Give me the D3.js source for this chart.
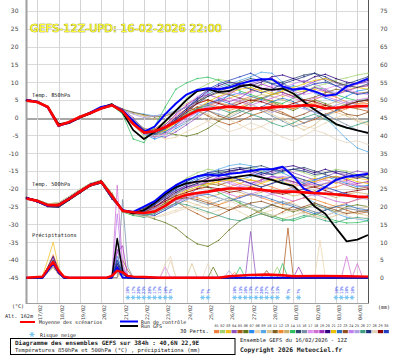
<!DOCTYPE html>
<html><head><meta charset="utf-8">
<script src="https://cdn.jsdelivr.net/npm/d3@7"></script>
<style>body{margin:0;background:#fff}svg{display:block}</style>
</head><body><svg id="c" width="395" height="355"></svg>
<script>
const hours = [0,12,24,36,48,60,72,84,96,108,120,132,144,156,168,180,192,204,216,228,240,252,264,276,288,300,312,324,336,348,360,372,384];
const dayHours = [12,36,60,84,108,132,156,180,204,228,252,276,300,324,348,372];
const dayLabels = ["17/02","18/02","19/02","20/02","21/02","22/02","23/02","24/02","25/02","26/02","27/02","28/02","01/03","02/03","03/03","04/03"];
const leftTicks = [-45,-40,-35,-30,-25,-20,-15,-10,-5,0,5,10,15,20,25,30];
const rightTicks = [0,5,10,15,20,25,30,35,40,45,50,55,60,65,70,75];
const memberColors = ["#f08040","#a0d070","#f0c020","#9050c0","#b05818","#607818","#2888f0","#ecd4ac","#58a8e8","#dcc490",
"#806020","#f08830","#c8b070","#30c060","#304870","#7890a8","#e090f0","#d070d0","#a030c0","#300080",
"#e8c000","#3070c0","#905020","#c080f0","#b0a0e0","#40a080","#203080","#e4d4bc","#900000","#2040c0"];

const meanT850 = [4.8,4.4,3.0,-2.2,-1.2,0.2,1.3,2.6,3.5, 1.8,-1.8,-4.2,-3.8,-2.7,-1.2,0.5,2.0, 2.4,2.8,3.1,2.9,2.6,2.7,2.9,3.1, 3.2,3.5,3.4,2.6,2.8,3.0,3.2,3.3];
const ctrlT850 = [5.0,4.5,2.8,-2.3,-1.4,0.1,1.5,3.0,3.6, 2.0,-1.0,-4.0,-2.5,1.0,4.0,6.5,7.8, 8.3,8.0,8.5,9.5,10.3,10.8,10.8,8.8, 7.9,8.2,7.4,6.2,6.5,8.8,9.8,11.0];
const gfsT850 = [5.0,4.5,3.0,-1.8,-1.5,0.0,1.2,2.8,3.8, 1.5,-3.5,-6.0,-4.0,-1.0,2.0,5.0,7.5, 8.0,7.2,7.5,8.8,9.3,8.2,7.8,8.2, 6.8,4.5,2.2,0.3,-1.8,-2.8,-3.6,-4.3];

const meanT500 = [-22.7,-23.4,-24.6,-24.6,-22.8,-20.8,-18.9,-18.0,-22.0, -26.2,-26.6,-26.8,-26.4,-24.8,-22.7,-21.7,-21.2, -20.8,-20.3,-19.9,-19.9,-20.0,-20.3,-20.6,-20.8, -20.8,-21.0,-21.2,-21.4,-21.6,-21.9,-22.2,-22.3];
const ctrlT500 = [-22.6,-23.5,-24.8,-24.5,-22.7,-20.7,-18.8,-18.0,-22.2, -26.0,-26.5,-25.0,-23.5,-21.0,-19.0,-17.5,-16.5, -16.0,-16.3,-15.8,-15.5,-15.0,-14.5,-14.5,-13.8, -16.5,-20.0,-21.3,-19.5,-17.5,-16.6,-16.2,-15.8];
const gfsT500 = [-22.7,-23.3,-24.5,-24.7,-22.9,-20.9,-18.9,-17.9,-22.0, -26.0,-27.0,-26.0,-24.0,-21.5,-19.5,-18.5,-18.0, -17.8,-17.5,-17.0,-16.5,-16.1,-16.8,-17.5,-18.5, -19.2,-21.8,-25.0,-27.0,-31.0,-34.8,-34.3,-33.0];

const t850Members = [
[4.9,4.3,2.8,-2.0,-1.3,0.4,1.5,2.9,3.6, 2.2,-0.5,-3.0,-3.5,-2.0,0.5,2.5,4.0, 5.0,4.2,3.5,4.8,6.0,5.2,4.0,3.1, 2.5,3.8,5.0,6.5,5.8,4.4,3.9,4.6],
[4.7,4.5,3.1,-2.4,-1.0,0.1,1.2,2.4,3.3, 1.5,-1.8,-5.2,-4.0,-1.5,2.0,5.5,8.0, 9.5,10.8,10.2,9.0,8.5,9.2,10.5,9.8, 8.0,7.2,8.8,9.5,10.6,11.2,12.0,12.5],
[4.8,4.4,3.0,-2.1,-1.6,0.3,1.4,2.7,3.4, 2.0,-1.0,-3.8,-4.5,-3.0,-1.0,1.0,2.5, 3.5,4.5,5.5,6.5,7.5,8.2,7.0,6.0, 6.8,7.5,8.0,7.2,6.5,7.8,8.5,9.0],
[4.8,4.2,2.9,-2.5,-1.4,0.0,1.1,2.8,3.8, 2.5,0.0,-3.5,-5.0,-5.5,-4.0,-2.0,0.0, 2.0,4.0,6.5,8.5,9.5,10.5,11.0,9.5, 8.0,8.8,10.2,11.0,9.8,8.5,9.5,10.0],
[4.9,4.5,3.2,-1.8,-1.2,0.5,1.6,2.5,3.2, 1.8,-1.5,-4.0,-3.2,-1.0,1.5,3.0,2.0, 0.5,-1.0,-2.0,-1.0,0.5,1.5,2.5,1.5, 0.0,-1.5,-0.5,1.0,2.0,3.0,2.5,1.8],
[4.6,4.4,3.0,-2.0,-1.5,0.2,1.3,2.6,3.6, 2.1,-0.8,-4.4,-5.5,-4.2,-4.8,-5.2,-4.5, -3.0,-1.0,1.0,2.5,4.0,5.5,4.5,3.0, 2.0,3.5,5.0,4.0,2.8,3.8,4.5,5.0],
[4.8,4.4,3.0,-2.2,-1.2,0.2,1.3,2.6,3.5, 1.9,-1.2,-4.6,-6.0,-5.0,-3.0,-1.5,1.0, 3.5,5.0,6.2,7.0,6.0,5.0,6.5,8.0, 9.0,8.2,7.0,5.5,4.5,6.0,7.5,8.0],
[4.8,4.5,3.1,-2.0,-1.3,0.3,1.2,2.5,3.4, 2.0,-0.5,-3.5,-4.8,-6.0,-5.5,-4.0,-2.5, -1.0,0.5,-0.5,-2.0,-3.5,-2.5,-1.0,0.0, -1.0,-2.5,-3.0,-1.5,0.0,1.0,-0.5,-1.5],
[4.9,4.3,2.9,-2.3,-1.4,0.1,1.4,2.7,3.6, 2.3,1.5,1.0,0.5,1.0,2.0,3.0,5.0, 7.0,8.5,9.5,10.5,11.5,12.8,12.5,10.0, 7.5,5.0,2.5,0.0,-3.0,-6.0,-8.5,-9.6],
[4.7,4.4,3.0,-2.1,-1.2,0.3,1.2,2.5,3.4, 1.8,-1.0,-3.5,-4.2,-3.5,-1.5,0.5,2.0, 1.0,-0.5,0.5,2.0,3.5,2.5,1.0,-0.5, -2.0,-3.5,-2.0,0.5,1.5,0.5,-1.0,-2.0],
[4.8,4.5,3.1,-1.9,-1.5,0.2,1.5,2.8,3.7, 2.4,1.5,0.8,0.2,0.5,1.5,3.0,4.5, 6.0,7.0,6.5,5.5,4.8,5.5,6.5,7.2, 6.0,5.0,5.8,7.0,8.0,7.5,6.8,7.2],
[4.9,4.4,2.9,-2.2,-1.6,0.1,1.3,2.6,3.5, 2.0,-1.0,-4.0,-5.0,-3.5,-1.0,1.5,3.0, 4.0,3.0,2.0,3.0,4.5,5.5,4.8,3.5, 2.5,3.5,4.2,3.0,1.5,2.5,3.8,4.0],
[4.8,4.3,3.0,-2.0,-1.4,0.2,1.3,2.6,3.5, 2.1,1.2,0.5,-0.5,0.5,2.0,4.0,5.5, 5.0,4.0,3.5,4.5,5.5,6.5,6.0,5.0, 4.0,3.2,2.5,3.5,4.5,3.5,2.8,3.0],
[4.7,4.4,3.1,-2.4,-1.1,0.4,1.2,2.5,3.4, 1.0,-6.0,-7.0,-2.5,3.0,8.0,9.8,11.0, 11.4,10.5,9.0,7.5,6.5,5.5,4.5,4.0, 5.5,7.0,8.5,8.0,6.5,5.5,4.8,5.2],
[4.8,4.4,3.0,-2.0,-1.5,0.3,1.4,2.7,3.6, 2.2,-0.8,-4.0,-4.8,-3.0,-0.5,2.0,4.5, 6.5,8.0,9.0,10.0,11.0,10.5,9.5,10.0, 11.0,12.0,12.5,10.5,9.0,9.5,10.5,11.5],
[4.9,4.5,3.0,-2.1,-1.3,0.2,1.3,2.5,3.5, 2.0,-0.5,-3.0,-4.0,-3.8,-2.5,-1.0,0.5, 2.0,1.0,0.0,1.5,3.0,2.0,0.5,-1.0, -2.5,-1.5,0.0,1.0,-0.5,-2.0,-3.5,-4.5],
[4.8,4.4,2.9,-2.2,-1.3,0.2,1.3,2.6,3.5, 1.9,-1.1,-4.2,-4.5,-2.5,0.5,3.5,6.0, 7.5,8.5,7.5,6.5,7.0,8.0,9.0,8.5, 7.5,6.5,7.2,8.0,9.0,8.0,7.0,6.5],
[4.7,4.3,3.0,-2.0,-1.4,0.1,1.2,2.7,3.4, 2.0,-0.9,-3.6,-5.2,-4.5,-2.0,0.0,1.5, 3.0,4.5,5.5,4.5,3.5,4.5,5.5,6.5, 5.5,4.5,5.5,6.0,5.0,4.0,5.0,5.5],
[4.8,4.5,3.1,-2.1,-1.6,0.3,1.4,2.6,3.6, 2.1,-1.0,-3.9,-3.8,-2.0,1.0,3.5,5.5, 6.5,5.5,4.5,5.5,7.5,9.5,8.5,7.0, 6.0,7.0,8.5,7.5,6.5,7.5,8.5,9.0],
[4.9,4.4,3.0,-2.0,-1.3,0.2,1.3,2.5,3.5, 2.0,-0.8,-3.5,-4.0,-2.5,0.0,2.5,5.0, 7.5,9.0,10.0,9.5,9.0,10.0,11.5,12.0, 11.0,10.0,11.5,12.2,11.0,10.0,9.5,10.5],
[4.8,4.4,3.0,-2.2,-1.5,0.2,1.3,2.6,3.5, 2.0,-1.0,-4.0,-4.5,-3.5,-1.5,0.5,2.5, 4.5,6.0,7.0,8.0,8.5,7.5,6.5,7.5, 8.5,9.5,10.5,11.0,10.0,9.0,8.5,8.0],
[4.8,4.3,3.0,-2.0,-1.4,0.2,1.3,2.6,3.5, 2.0,-1.0,-4.2,-5.0,-4.0,-2.0,0.5,2.5, 4.0,5.0,4.0,3.0,2.0,3.0,4.5,5.5, 4.5,3.0,1.5,0.5,2.0,3.5,4.5,5.0],
[4.7,4.4,3.0,-2.0,-1.5,0.2,1.3,2.6,3.5, 2.0,-1.0,-4.0,-4.0,-2.5,-0.5,1.5,3.0, 2.0,0.5,-0.5,0.5,2.0,3.0,2.0,1.0, 0.0,1.0,2.5,3.5,2.5,1.0,0.5,1.5],
[4.9,4.5,3.1,-2.3,-1.3,0.3,1.4,2.7,3.7, 2.0,-1.2,-4.5,-5.5,-4.5,-2.5,-0.5,1.5, 3.5,5.5,7.0,8.5,9.5,8.5,7.5,8.5, 9.5,10.5,9.5,8.0,7.0,8.0,9.5,10.0],
[4.6,4.3,2.9,-1.9,-1.2,0.4,1.4,2.4,3.3, 2.0,1.0,0.0,0.5,1.0,1.5,3.0,4.0, 3.0,2.0,3.5,5.0,4.0,2.5,1.5,2.5, 3.5,2.5,1.5,2.5,3.5,4.5,3.5,2.5],
[4.8,4.5,3.1,-2.1,-1.5,0.1,1.2,2.7,3.6, 2.0,-1.0,-4.0,-4.8,-3.2,-1.0,1.0,2.5, 3.5,2.5,1.5,2.0,1.0,0.0,-1.5,-2.5, -1.5,0.0,1.0,-0.5,-2.0,-3.0,-2.0,-1.0],
[4.9,4.4,3.0,-2.4,-1.3,0.2,1.3,2.5,3.4, 2.0,-0.8,-3.5,-4.0,-3.0,-1.0,1.5,4.0, 6.0,7.5,8.5,9.0,8.0,7.0,8.0,9.5, 10.5,11.5,12.5,11.5,10.0,9.0,8.5,9.5],
[4.7,4.3,2.9,-2.0,-1.6,0.3,1.5,2.8,3.5, 2.0,-1.0,-4.0,-5.0,-5.0,-3.5,-1.5,0.5, -1.0,-2.5,-4.0,-3.0,-1.5,-2.5,-4.0,-5.5, -6.5,-5.0,-3.5,-4.5,-6.0,-7.0,-6.5,-7.5],
[4.8,4.5,3.0,-1.9,-1.4,0.2,1.2,2.6,3.6, 2.0,-1.0,-4.0,-4.2,-2.8,-0.5,2.0,4.0, 5.0,4.0,3.0,4.0,5.0,4.5,3.5,3.0, 4.0,5.0,4.5,3.5,2.5,3.5,4.5,5.0],
[4.8,4.4,3.1,-2.2,-1.3,0.1,1.3,2.6,3.4, 2.0,-1.0,-4.3,-4.6,-3.0,-0.5,2.5,5.5, 8.0,9.5,10.5,11.5,12.5,11.0,9.5,8.5, 7.5,8.5,9.5,10.0,9.0,7.5,6.5,7.0]
];

const t500Members = [
[-22.5,-23.2,-24.8,-24.3,-22.5,-20.5,-18.7,-17.8,-21.5, -26.0,-27.0,-26.5,-25.0,-23.0,-20.5,-19.0,-18.0, -17.5,-18.5,-19.5,-18.5,-17.5,-18.5,-19.5,-20.5, -19.5,-18.5,-19.0,-20.0,-19.5,-18.5,-19.0,-19.5],
[-22.8,-23.5,-24.5,-24.8,-23.0,-21.0,-19.0,-18.2,-22.5, -26.5,-27.5,-27.0,-24.5,-21.5,-19.0,-17.0,-15.5, -14.5,-15.0,-15.5,-14.5,-14.0,-15.0,-16.0,-15.5, -14.5,-15.5,-16.5,-15.5,-14.5,-15.0,-16.0,-16.5],
[-22.6,-23.3,-24.7,-24.5,-22.7,-20.6,-18.8,-18.0,-21.8, -26.2,-26.8,-27.2,-26.5,-24.5,-22.5,-21.0,-20.0, -19.0,-18.0,-17.5,-18.5,-19.5,-18.5,-17.5,-18.0, -19.0,-18.0,-17.0,-17.5,-18.5,-17.5,-17.0,-17.5],
[-22.9,-23.6,-24.4,-24.7,-22.9,-20.9,-19.1,-18.1,-22.2, -26.4,-27.0,-28.0,-27.5,-26.0,-24.0,-22.0,-20.0, -18.0,-16.5,-15.5,-14.5,-15.5,-16.5,-15.5,-14.5, -15.5,-16.5,-17.5,-16.5,-15.5,-16.0,-15.0,-15.5],
[-22.7,-23.4,-24.6,-24.6,-22.8,-20.8,-18.9,-18.0,-22.0, -26.0,-26.5,-25.5,-24.0,-22.5,-23.5,-25.5,-27.0, -28.5,-27.5,-26.0,-24.5,-25.5,-27.0,-28.0,-26.5, -25.0,-26.5,-27.5,-26.0,-25.0,-26.0,-27.0,-26.5],
[-22.4,-23.7,-25.0,-25.2,-23.2,-21.2,-19.2,-18.4,-22.8, -26.3,-27.0,-27.5,-28.5,-29.5,-31.0,-33.5,-35.5, -36.2,-34.5,-31.5,-29.0,-27.5,-26.0,-24.5,-25.5, -26.5,-25.5,-24.5,-25.5,-26.5,-25.0,-24.5,-25.0],
[-23.0,-23.1,-24.2,-24.0,-22.2,-20.2,-18.5,-17.6,-21.2, -26.2,-26.6,-26.0,-24.5,-22.0,-20.0,-18.5,-17.0, -16.0,-15.5,-16.5,-17.5,-16.5,-15.5,-14.5,-15.5, -17.0,-18.5,-17.5,-16.5,-17.5,-18.5,-19.5,-19.0],
[-22.5,-23.2,-24.8,-24.3,-22.5,-20.5,-18.7,-17.8,-21.5, -26.0,-27.0,-27.5,-28.0,-27.0,-26.0,-25.0,-26.0, -27.0,-26.0,-25.0,-26.5,-28.0,-27.0,-26.0,-25.0, -24.0,-25.5,-26.5,-25.5,-24.5,-25.5,-26.0,-25.0],
[-22.8,-23.5,-24.5,-24.8,-23.0,-21.0,-19.0,-18.2,-22.5, -26.2,-26.8,-26.0,-24.0,-21.5,-19.5,-18.0,-16.5, -15.5,-14.5,-13.5,-13.0,-13.5,-14.5,-16.0,-18.0, -20.0,-22.0,-24.0,-25.5,-27.0,-28.0,-28.5,-29.0],
[-22.6,-23.3,-24.7,-24.5,-22.7,-20.6,-18.8,-18.0,-21.8, -26.2,-27.0,-27.5,-26.5,-25.0,-24.0,-23.5,-24.5, -25.5,-24.5,-23.0,-24.0,-25.5,-26.5,-27.5,-28.5, -27.5,-26.5,-27.5,-28.5,-27.5,-26.5,-27.0,-27.5],
[-22.9,-23.6,-24.4,-24.7,-22.9,-20.9,-19.1,-18.1,-22.2, -26.0,-26.8,-26.5,-25.0,-23.0,-21.5,-20.0,-19.0, -18.5,-19.0,-18.0,-17.5,-18.5,-19.5,-18.5,-17.5, -18.0,-19.0,-19.5,-18.5,-18.0,-19.0,-20.0,-19.5],
[-22.7,-23.4,-24.6,-24.6,-22.8,-20.8,-18.9,-18.0,-22.0, -26.4,-27.2,-27.5,-26.5,-24.5,-23.0,-21.5,-22.5, -23.5,-24.5,-23.5,-22.0,-21.5,-22.5,-23.5,-24.5, -23.5,-22.5,-23.0,-24.0,-25.0,-24.0,-23.0,-22.5],
[-22.4,-23.7,-25.0,-25.2,-23.2,-21.2,-19.2,-18.4,-22.8, -26.1,-26.5,-26.0,-24.5,-22.5,-21.0,-20.5,-21.5, -22.5,-21.5,-20.5,-21.0,-22.0,-21.0,-20.0,-21.0, -22.0,-21.5,-20.5,-21.5,-22.5,-21.5,-21.0,-21.5],
[-23.0,-23.1,-24.2,-24.0,-22.2,-20.2,-18.5,-17.6,-21.2, -26.5,-27.5,-28.0,-26.5,-24.0,-21.5,-19.5,-18.5, -19.5,-21.0,-22.5,-24.0,-25.5,-26.5,-27.5,-28.5, -29.0,-28.0,-27.0,-28.0,-29.0,-29.6,-29.5,-29.0],
[-22.5,-23.2,-24.8,-24.3,-22.5,-20.5,-18.7,-17.8,-21.5, -26.0,-26.4,-25.5,-23.5,-21.0,-19.0,-17.5,-16.5, -16.0,-15.5,-15.0,-14.5,-14.0,-13.5,-14.5,-15.0, -14.5,-14.0,-15.0,-16.0,-17.0,-16.5,-16.0,-17.0],
[-22.8,-23.5,-24.5,-24.8,-23.0,-21.0,-19.0,-18.2,-22.5, -26.3,-27.0,-27.2,-26.0,-24.5,-23.0,-22.5,-23.5, -24.5,-23.5,-22.5,-23.5,-24.5,-25.5,-24.5,-23.5, -24.5,-25.5,-26.5,-27.5,-26.5,-25.5,-26.0,-26.5],
[-22.6,-23.3,-24.7,-24.5,-22.7,-20.6,-18.8,-18.0,-21.8, -26.2,-26.7,-26.5,-25.0,-22.5,-20.5,-19.0,-18.0, -17.5,-17.0,-18.0,-19.0,-18.5,-17.5,-16.5,-17.5, -18.5,-19.5,-18.5,-17.5,-18.0,-19.0,-18.5,-18.0],
[-22.9,-23.6,-24.4,-24.7,-22.9,-20.9,-19.1,-18.1,-22.2, -26.2,-26.9,-27.5,-27.0,-25.5,-24.0,-22.5,-21.5, -21.0,-20.5,-21.5,-22.5,-21.5,-20.5,-21.5,-22.5, -23.5,-22.5,-21.5,-22.5,-23.5,-24.0,-23.0,-22.0],
[-22.7,-23.4,-24.6,-24.6,-22.8,-20.8,-18.9,-18.0,-22.0, -26.0,-26.6,-26.0,-24.0,-22.0,-20.5,-19.5,-19.0, -18.0,-17.0,-16.5,-17.5,-18.5,-17.5,-16.5,-17.0, -18.0,-19.0,-18.0,-17.0,-16.5,-17.5,-18.5,-18.0],
[-22.4,-23.7,-25.0,-25.2,-23.2,-21.2,-19.2,-18.4,-22.8, -26.2,-26.8,-26.5,-25.5,-23.0,-21.0,-19.5,-18.5, -17.0,-16.0,-15.0,-14.5,-15.0,-16.0,-15.0,-14.0, -13.5,-14.5,-15.5,-14.5,-15.5,-16.5,-17.0,-16.0],
[-23.0,-23.1,-24.2,-24.0,-22.2,-20.2,-18.5,-17.6,-21.2, -26.3,-26.9,-27.0,-26.0,-24.0,-22.0,-20.5,-19.5, -18.5,-18.0,-17.5,-17.0,-17.5,-18.0,-17.5,-17.0, -16.5,-17.5,-18.0,-17.0,-16.5,-17.0,-18.0,-18.5],
[-22.5,-23.2,-24.8,-24.3,-22.5,-20.5,-18.7,-17.8,-21.5, -26.2,-26.6,-27.0,-27.5,-26.0,-24.5,-23.0,-22.0, -21.5,-22.5,-23.5,-22.5,-21.5,-22.0,-23.0,-24.0, -25.0,-26.0,-27.0,-26.0,-25.0,-24.5,-25.5,-26.0],
[-22.8,-23.5,-24.5,-24.8,-23.0,-21.0,-19.0,-18.2,-22.5, -26.1,-26.5,-26.5,-25.5,-24.0,-23.0,-22.5,-23.0, -24.0,-25.0,-26.0,-25.0,-24.0,-23.5,-24.5,-25.5, -26.0,-25.0,-24.0,-25.0,-26.0,-27.0,-26.5,-26.0],
[-22.6,-23.3,-24.7,-24.5,-22.7,-20.6,-18.8,-18.0,-21.8, -26.3,-27.0,-27.0,-25.5,-23.5,-21.5,-20.0,-19.0, -18.0,-17.5,-18.5,-19.5,-19.0,-18.0,-17.0,-16.5, -17.0,-18.0,-19.0,-18.5,-17.5,-18.0,-19.0,-19.5],
[-22.9,-23.6,-24.4,-24.7,-22.9,-20.9,-19.1,-18.1,-22.2, -26.0,-26.6,-26.8,-25.8,-24.5,-23.5,-23.0,-22.0, -21.0,-20.0,-19.5,-20.5,-21.5,-22.5,-21.5,-20.5, -20.0,-21.0,-22.0,-21.0,-20.5,-21.5,-22.5,-23.0],
[-22.7,-23.4,-24.6,-24.6,-22.8,-20.8,-18.9,-18.0,-22.0, -26.2,-27.0,-27.5,-27.0,-25.5,-24.0,-24.5,-25.5, -26.5,-27.5,-28.5,-29.0,-28.0,-27.0,-28.0,-29.0, -28.5,-27.5,-28.0,-29.0,-29.5,-28.5,-28.0,-28.5],
[-22.4,-23.7,-25.0,-25.2,-23.2,-21.2,-19.2,-18.4,-22.8, -26.2,-26.7,-26.2,-24.5,-22.0,-20.0,-18.0,-16.5, -15.5,-15.0,-14.5,-14.0,-14.5,-15.5,-16.0,-15.0, -14.5,-15.0,-16.0,-15.5,-15.0,-15.5,-16.5,-17.0],
[-23.0,-23.1,-24.2,-24.0,-22.2,-20.2,-18.5,-17.6,-21.2, -26.4,-27.2,-27.8,-28.0,-27.5,-26.5,-25.5,-24.5, -23.5,-22.5,-23.5,-24.5,-25.5,-26.5,-27.5,-27.0, -26.0,-27.0,-28.0,-27.5,-26.5,-27.5,-28.5,-28.0],
[-22.5,-23.2,-24.8,-24.3,-22.5,-20.5,-18.7,-17.8,-21.5, -26.1,-26.6,-26.0,-25.0,-23.5,-22.0,-21.0,-20.0, -19.5,-20.0,-21.0,-20.5,-19.5,-20.0,-21.0,-21.5, -21.0,-20.0,-19.5,-20.5,-21.5,-21.0,-20.5,-20.0],
[-22.8,-23.5,-24.5,-24.8,-23.0,-21.0,-19.0,-18.2,-22.5, -26.3,-26.9,-26.3,-24.5,-22.5,-20.5,-19.0,-17.5, -16.5,-16.0,-16.5,-17.5,-18.5,-19.5,-18.5,-17.5, -16.5,-17.5,-18.5,-19.5,-20.5,-21.5,-22.5,-22.0]
];

// precipitation (mm) as [hour, mm] points
const precipMembers = [
[[0,0],[18,0],[24,2.5],[30,4.5],[36,2],[42,0],[96,0],[102,3],[108,1.5],[114,0],[228,0],[234,1.5],[240,0],[384,0]],
[[0,0],[18,0],[24,2],[30,3.5],[36,1.5],[42,0],[96,0],[102,2],[108,0],[276,0],[282,3],[288,0],[384,0]],
[[0,0],[18,0.5],[24,5],[30,10],[36,3],[42,0],[96,0],[102,4],[108,1],[114,0],[384,0]],
[[0,0],[18,0],[24,3],[30,6],[36,2.5],[42,0],[96,0],[102,8],[108,3],[114,0],[246,0],[252,13],[258,0],[384,0]],
[[0,0],[18,0],[24,2],[30,4],[36,1.5],[42,0],[102,0],[108,5],[114,2],[120,0],[288,0],[294,14],[300,0],[384,0]],
[[0,0],[18,0],[24,1.5],[30,3.5],[36,2],[42,0],[96,0],[102,3],[108,0],[204,0],[210,3],[216,0],[384,0]],
[[0,0],[18,0],[24,2.5],[30,5],[36,2],[42,0],[96,0],[102,6],[108,2],[114,0],[384,0]],
[[0,0],[18,0],[24,1.5],[30,3],[36,1],[42,0],[96,0],[102,2],[108,0],[150,0],[156,4],[162,6],[168,0],[324,0],[330,10.5],[336,0],[384,0]],
[[0,0],[18,0],[24,2],[30,4.5],[36,2],[42,0],[96,0],[102,2.5],[108,0],[384,0]],
[[0,0],[18,0],[24,2],[30,3],[36,1],[42,0],[102,0],[108,2],[114,0],[180,0],[186,4],[192,0],[384,0]],
[[0,0],[18,0],[24,2.5],[30,4],[36,1.5],[42,0],[96,0],[102,5],[108,1],[114,0],[384,0]],
[[0,0],[18,0],[24,3],[30,6.5],[36,2.5],[42,0],[96,0],[102,3],[108,0],[384,0]],
[[0,0],[18,0],[24,1.5],[30,3],[36,1],[42,0],[96,0],[102,1.5],[108,0],[384,0]],
[[0,0],[18,0],[24,2],[30,4],[36,1.5],[42,0],[96,0],[102,2],[108,0],[234,0],[240,3],[246,0],[282,0],[288,4],[294,0],[384,0]],
[[0,0],[18,0],[24,2.5],[30,5],[36,2],[42,0],[96,0],[102,4],[108,2],[114,0],[384,0]],
[[0,0],[18,0],[24,2],[30,4],[36,1.5],[42,0],[102,0],[108,22],[114,3],[120,0],[384,0]],
[[0,0],[18,0],[24,2],[30,3.5],[36,1],[42,0],[96,0],[102,10],[108,2],[114,0],[150,0],[156,3],[162,0],[384,0]],
[[0,0],[18,0],[24,2.5],[30,5.5],[36,2],[42,0],[96,0],[102,26],[108,4],[114,0],[354,0],[360,6],[366,0],[372,4],[378,0],[384,0]],
[[0,0],[18,0],[24,2],[30,4.5],[36,2],[42,0],[96,0],[102,7],[108,9],[114,0],[300,0],[306,3],[312,0],[384,0]],
[[0,0],[18,0],[24,3],[30,6],[36,2],[42,0],[96,0],[102,4],[108,0],[384,0]],
[[0,0],[18,0],[24,2.5],[30,5],[36,2],[42,0],[96,0],[102,3],[108,0],[384,0]],
[[0,0],[18,0],[24,2],[30,4],[36,1.5],[42,0],[96,0],[102,5],[108,1],[114,0],[384,0]],
[[0,0],[18,0],[24,1.5],[30,3],[36,1],[42,0],[96,0],[102,2],[108,0],[264,0],[270,2],[276,0],[384,0]],
[[0,0],[18,0],[24,2.5],[30,4.5],[36,2],[42,0],[96,0],[102,18],[108,3],[114,0],[384,0]],
[[0,0],[18,0],[24,2],[30,3.5],[36,1.5],[42,0],[96,0],[102,2],[108,0],[222,0],[228,2],[234,0],[384,0]],
[[0,0],[18,0],[24,2],[30,4],[36,1.5],[42,0],[96,0],[102,3],[108,0],[384,0]],
[[0,0],[18,0],[24,2],[30,5],[36,2],[42,0],[96,0],[102,4],[108,1],[114,0],[384,0]],
[[0,0],[18,0],[24,1.5],[30,3],[36,1],[42,0],[96,0],[102,2],[108,0],[156,0],[162,5],[168,0],[198,0],[204,4],[210,0],[384,0]],
[[0,0],[18,0],[24,2],[30,4],[36,1.5],[42,0],[96,0],[102,3],[108,0],[384,0]],
[[0,0],[18,0],[24,2.5],[30,4.5],[36,2],[42,0],[96,0],[102,5],[108,1],[114,0],[384,0]]
];
const meanPrecip = [[0,0],[18,0.3],[24,2.5],[30,4.4],[36,2],[42,0.3],[48,0],[90,0],[96,0.5],[102,2],[108,1.5],[114,0.5],[120,0.3],[132,0.2],[150,0],[216,0],[228,0.4],[252,0.8],[270,0.9],[288,0.7],[300,0.4],[330,0.5],[360,0.4],[384,0.3]];
const ctrlPrecip = [[0,0],[18,0],[24,2],[30,4],[36,1.5],[42,0],[96,0],[102,3],[108,0],[384,0]];
const gfsPrecip = [[0,0],[18,0],[24,2],[30,4],[36,1.5],[42,0],[96,0],[102,11],[108,2],[114,0],[384,0]];

const snowHours = [114,120,126,132,138,144,150,156,162,198,204,234,240,246,252,258,264,270,276,282,294,306,348,354,360,366];
const snowPct = [10,17,20,23,20,17,13,10,7,7,7,10,13,10,13,17,20,27,17,13,7,7,10,13,10,10];

const svg = d3.select('#c');
const MONO = '"DejaVu Sans Mono", monospace';
const x = d3.scaleLinear().domain([0,384]).range([26.5,368]);
const y = d3.scaleLinear().domain([-45,30]).range([277.7,11]);
const yR = d3.scaleLinear().domain([0,75]).range([277.7,11]);

// grid
const grid = svg.append('g').attr('shape-rendering','crispEdges');
grid.selectAll('line.h').data(leftTicks).join('line')
  .attr('x1',26.5).attr('x2',368).attr('y1',d=>Math.round(y(d))+0.5).attr('y2',d=>Math.round(y(d))+0.5)
  .attr('stroke',d=>d===0?'#a8a8a8':'#dadada').attr('stroke-width',d=>d===0?2:1);
grid.selectAll('line.v').data(dayHours).join('line')
  .attr('x1',d=>Math.round(x(d))+0.5).attr('x2',d=>Math.round(x(d))+0.5).attr('y1',0).attr('y2',303)
  .attr('stroke','#d4d4d4');

// axis lines
svg.append('line').attr('x1',26.5).attr('x2',26.5).attr('y1',0).attr('y2',304).attr('stroke','#a0a0a0').attr('stroke-width',2);
svg.append('line').attr('x1',368.5).attr('x2',368.5).attr('y1',0).attr('y2',304).attr('stroke','#555').attr('stroke-width',1);
svg.append('line').attr('x1',26).attr('x2',369).attr('y1',303.5).attr('y2',303.5).attr('stroke','#a0a0a0').attr('stroke-width',1);

// axes labels
const la = svg.append('g').attr('transform','translate(26.5,0)')
  .call(d3.axisLeft(y).tickValues(leftTicks).tickSize(0).tickPadding(8).tickFormat(d=>String(d)));
la.select('.domain').remove();
la.selectAll('text').attr('font-size',6).attr('font-family','DejaVu Sans').attr('fill','#444');
const ra = svg.append('g').attr('transform','translate(368,0)')
  .call(d3.axisRight(yR).tickValues(rightTicks).tickSize(0).tickPadding(12).tickFormat(d=>String(d)));
ra.select('.domain').remove();
ra.selectAll('text').attr('font-size',6).attr('font-family','DejaVu Sans').attr('fill','#444');

svg.selectAll('text.day').data(dayHours).join('text')
  .attr('transform',d=>`translate(${x(d)+5},305) rotate(-90)`)
  .attr('text-anchor','end').attr('font-family',MONO).attr('font-size',5).attr('fill','#444')
  .text((d,i)=>dayLabels[i]);

// title
svg.append('text').attr('x',30).attr('y',32).attr('font-family','DejaVu Sans').attr('font-size',11)
  .attr('textLength',192).attr('lengthAdjust','spacingAndGlyphs')
  .attr('fill','#ffff30').attr('stroke','#8a8a00').attr('stroke-width',0.7).attr('paint-order','stroke')
  .text('GEFS-12Z-UPD: 16-02-2026 22:00');

// section labels
const sec = [['Temp. 850hPa',97],['Temp. 500hPa',186],['Précipitations',236.5]];
svg.selectAll('text.sec').data(sec).join('text').attr('x',32).attr('y',d=>d[1])
  .attr('font-family',MONO).attr('font-size',5.3).attr('fill','#222').text(d=>d[0]);

const line = d3.line().x((d,i)=>x(hours[i])).y(d=>y(d));
const pline = d3.line().x(d=>x(d[0])).y(d=>yR(d[1]));

const mg = svg.append('g');
function member(arr,col,gen){
  mg.append('path').attr('d',gen(arr)).attr('fill','none').attr('stroke',col).attr('stroke-width',0.75);
}
t850Members.forEach((a,k)=>{
  member(a,memberColors[k],line);
  mg.selectAll(null).data(a).enter().append('circle').attr('cx',(d,i)=>x(hours[i])).attr('cy',d=>y(d)).attr('r',0.7).attr('fill',memberColors[k]);
});
t500Members.forEach((a,k)=>{
  member(a,memberColors[k],line);
  mg.selectAll(null).data(a).enter().append('circle').attr('cx',(d,i)=>x(hours[i])).attr('cy',d=>y(d)).attr('r',0.7).attr('fill',memberColors[k]);
});
precipMembers.forEach((a,k)=>{ member(a,memberColors[k],pline); });

function thick(arr,gen,col,w){
  svg.append('path').attr('d',gen(arr)).attr('fill','none').attr('stroke',col).attr('stroke-width',w).attr('stroke-linejoin','round');
}
thick(gfsT850,line,'#000',1.8); thick(gfsT500,line,'#000',1.8); thick(gfsPrecip,pline,'#000',1.5);
thick(ctrlT850,line,'#0000ff',2); thick(ctrlT500,line,'#0000ff',2); thick(ctrlPrecip,pline,'#0000ff',1.8);
thick(meanT850,line,'#ff0000',2.6); thick(meanT500,line,'#ff0000',2.6); thick(meanPrecip,pline,'#ff0000',2.4);

// snow markers
function flake(g,cx,cy,r){
  [0,60,120].forEach(a=>{
    const rad=a*Math.PI/180;
    g.append('line').attr('x1',cx-r*Math.cos(rad)).attr('y1',cy-r*Math.sin(rad))
     .attr('x2',cx+r*Math.cos(rad)).attr('y2',cy+r*Math.sin(rad))
     .attr('stroke','#7cc6f2').attr('stroke-width',1.1);
  });
}
const sg = svg.append('g');
snowHours.forEach((h,i)=>{
  sg.append('text').attr('transform',`translate(${x(h)+1.6},294) rotate(-90)`)
    .attr('font-family',MONO).attr('font-size',4.2).attr('fill','#2a3cf0').text(snowPct[i]+'%');
  flake(sg,x(h),297.5,2.4);
});

// legend
const lg = svg.append('g').attr('font-family',MONO).attr('fill','#222');
lg.append('text').attr('x',12).attr('y',308).attr('font-size',5).text('(°C)');
lg.append('text').attr('x',378).attr('y',309).attr('font-size',5).text('(mm)');
lg.append('text').attr('x',5).attr('y',317.5).attr('font-size',5.2).text('Alt. 162m');
lg.append('line').attr('x1',20).attr('x2',35).attr('y1',322).attr('y2',322).attr('stroke','#ff0000').attr('stroke-width',2);
lg.append('text').attr('x',39).attr('y',324).attr('font-size',5).text('Moyenne des scénarios');
lg.append('line').attr('x1',120).attr('x2',138).attr('y1',321.5).attr('y2',321.5).attr('stroke','#0000ff').attr('stroke-width',2);
lg.append('text').attr('x',141).attr('y',323.5).attr('font-size',5).text('Run de contrôle');
lg.append('line').attr('x1',120).attr('x2',138).attr('y1',326).attr('y2',326).attr('stroke','#000').attr('stroke-width',2);
lg.append('text').attr('x',141).attr('y',328).attr('font-size',5).text('Run GFS');
flake(lg,32,334.5,2.6);
lg.append('text').attr('x',40).attr('y',336.5).attr('font-size',5).text('Risque neige');
lg.append('text').attr('x',180).attr('y',332.5).attr('font-size',5.3).text('30 Perts.');
memberColors.forEach((c,i)=>{
  const sx = 214 + i*5.85;
  lg.append('rect').attr('x',sx).attr('y',330).attr('width',5.2).attr('height',3.2).attr('fill',c);
  lg.append('text').attr('x',sx+2.6).attr('y',326.5).attr('text-anchor','middle').attr('font-size',3.6).attr('fill','#333')
    .text(String(i+1).padStart(2,'0'));
});
lg.append('rect').attr('x',10.5).attr('y',338.5).attr('width',224.5).attr('height',16).attr('fill','#fff').attr('stroke','#000');
lg.append('text').attr('x',15).attr('y',345).attr('font-size',6).attr('font-weight','bold').text('Diagramme des ensembles GEFS sur 384h : 40,6N 22,9E');
lg.append('text').attr('x',15).attr('y',352).attr('font-size',5.5).text('Températures 850hPa et 500hPa (°C) , précipitations (mm)');
lg.append('text').attr('x',240).attr('y',342).attr('font-size',5.4).text('Ensemble GEFS du 16/02/2026 - 12Z');
lg.append('text').attr('x',240).attr('y',352).attr('font-size',6.3).attr('font-weight','bold').text('Copyright 2026 Meteociel.fr');
</script>
</body></html>
